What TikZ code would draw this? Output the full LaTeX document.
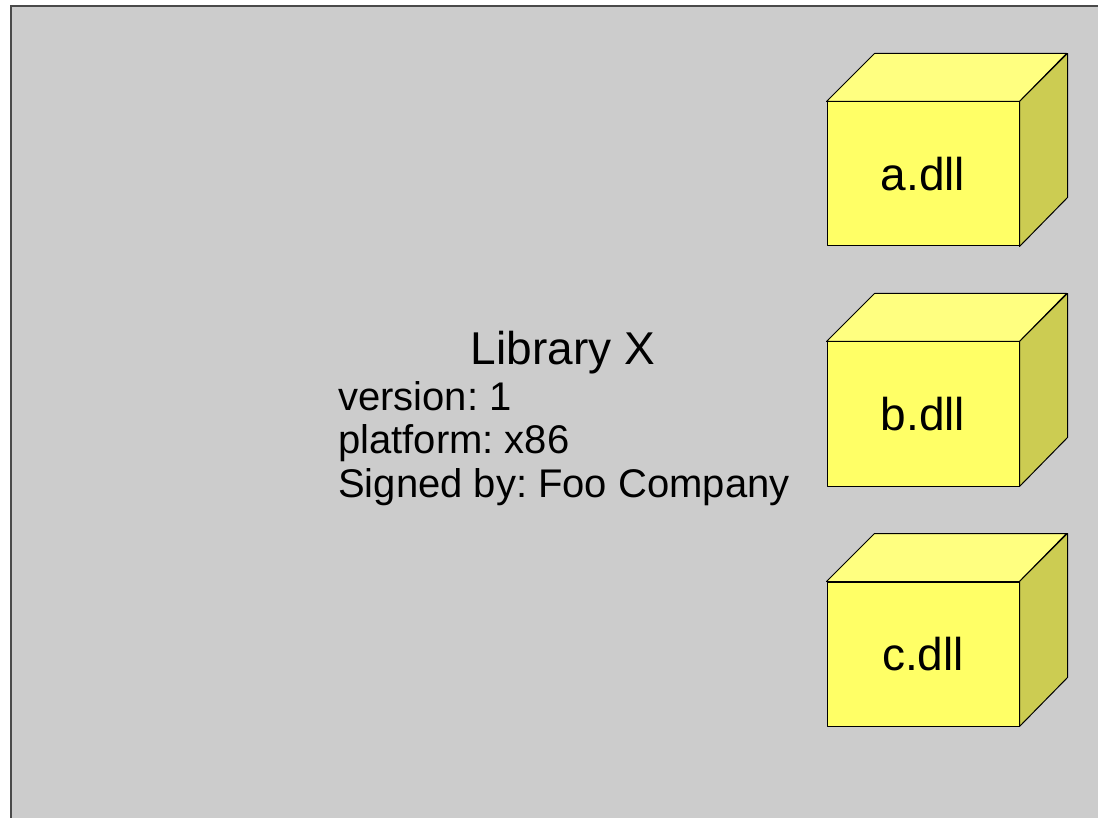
\documentclass[tikz,border=0pt]{standalone}
\usepackage{fontspec}
\setmainfont{Liberation Sans}
\frenchspacing
\definecolor{bggray}{HTML}{CCCCCC}
\definecolor{bgline}{HTML}{4A4A4A}
\definecolor{frontY}{HTML}{FFFF66}
\definecolor{topY}{HTML}{FFFF80}
\definecolor{sideY}{HTML}{CCCC52}
\begin{document}
\begin{tikzpicture}[x=1pt,y=-1pt,
  face/.style={draw=black,line width=1pt,line join=round},
  front/.style={face,fill=frontY,minimum width=192pt,minimum height=144pt,inner sep=0pt,
     font=\fontsize{46}{50}\selectfont},
  bigtitle/.style={font=\fontsize{46}{52}\selectfont,inner sep=0pt},
  info/.style={font=\fontsize{40}{44}\selectfont,inner sep=0pt,anchor=base west}]
\useasboundingbox (0,0) rectangle (1098,818);
\fill[bggray] (11,6) rectangle (1120,840);
\draw[bgline,line width=1.8pt] (11,840) -- (11,6) -- (1120,6);
% cubes
\foreach \n/\t/\yc in {a/a.dll/174, b/b.dll/414, c/c.dll/654}{
  \node[front] (\n) at (923,\yc) {\t};
  \draw[face,fill=topY] (\n.north west) -- ++(48,-48) -- ++(192,0) -- (\n.north east) -- cycle;
  \draw[face,fill=sideY] (\n.north east) -- ++(48,-48) -- ++(0,144) -- (\n.south east) -- cycle;
}
% texts
\node[bigtitle,anchor=base] (lib) at (563,364) {Library X};
\node[info] (v) at (338,410) {version: 1};
\node[info] (p) at (338,453.5) {platform: x86};
\node[info] (s) at (338,497) {Signed by: Foo Company};
\end{tikzpicture}
\end{document}
